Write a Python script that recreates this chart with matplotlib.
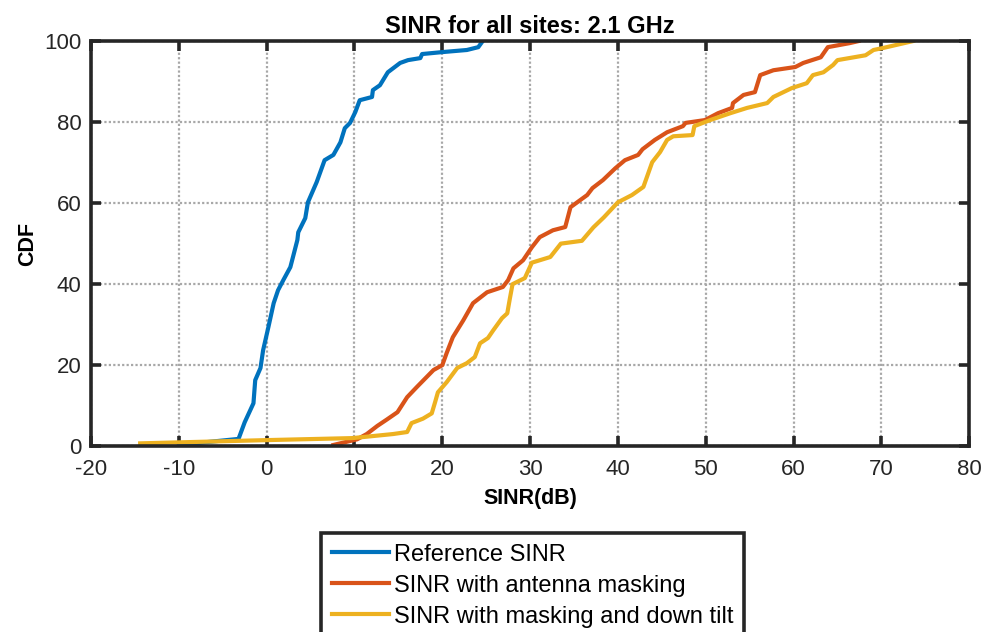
import matplotlib.pyplot as plt

plt.rcParams['font.family'] = ['Liberation Sans', 'DejaVu Sans']
plt.rcParams['axes.unicode_minus'] = False

# Reference SINR
ref_x = [-10.0, -3.2, -2.5, -1.5, -1.3, -0.7, -0.4, 0.2, 0.8, 1.3, 1.9, 2.7, 3.0,
         3.5, 3.6, 4.4, 4.7, 5.7, 6.6, 7.6, 8.4, 8.9, 9.5, 10.1, 10.6, 12.0, 12.1,
         12.9, 13.8, 15.2, 16.1, 17.5, 17.7, 20.1, 22.8, 24.1, 24.6]
ref_y = [0.3, 1.8, 5.9, 10.6, 16.3, 19.3, 23.7, 29.4, 35.3, 38.5, 41.0, 44.2, 46.7,
         50.9, 52.8, 56.3, 60.2, 65.2, 70.6, 71.9, 75.0, 78.5, 79.8, 82.5, 85.4, 86.2, 87.9,
         89.1, 92.3, 94.6, 95.3, 95.8, 96.8, 97.3, 97.8, 98.5, 100.0]

# SINR with antenna masking
mask_x = [7.6, 10.3, 11.4, 12.6, 13.7, 14.9, 16.0, 17.1, 19.0, 20.0, 20.5, 21.2,
          22.4, 23.5, 25.1, 26.9, 27.5, 28.1, 29.2, 30.2, 31.1, 32.6, 34.0, 34.6,
          36.5, 37.1, 38.3, 39.7, 40.8, 42.3, 42.8, 44.2, 45.6, 47.4, 47.7, 49.9,
          51.4, 53.0, 53.1, 54.3, 55.6, 56.2, 57.7, 60.2, 61.1, 63.1, 63.9, 66.4, 67.4]
mask_y = [0.3, 1.7, 3.0, 5.0, 6.6, 8.4, 12.1, 14.6, 18.8, 20.0, 23.0, 26.9,
          31.1, 35.3, 38.0, 39.3, 41.0, 43.9, 45.9, 49.1, 51.6, 53.3, 54.1, 59.0,
          62.0, 63.7, 65.7, 68.6, 70.6, 71.9, 73.3, 75.6, 77.5, 79.0, 79.8, 80.5,
          82.2, 83.5, 84.7, 86.7, 87.4, 91.6, 92.8, 93.6, 94.6, 96.0, 98.5, 99.5, 100.0]

# SINR with masking and down tilt
tilt_x = [-14.4, 0.0, 9.8, 14.4, 16.0, 16.5, 17.8, 18.8, 19.2, 19.5, 20.5, 21.7,
          22.8, 23.7, 24.3, 25.2, 25.8, 26.8, 27.4, 27.7, 28.0, 29.4, 30.2, 32.3,
          33.5, 35.9, 37.2, 38.4, 40.0, 41.6, 42.9, 43.9, 44.8, 45.6, 46.3, 48.5,
          48.7, 50.5, 52.8, 54.7, 57.0, 57.7, 59.8, 61.5, 62.2, 63.4, 64.5, 65.0,
          68.2, 69.1, 70.2, 73.6]
tilt_y = [0.7, 1.5, 2.0, 3.0, 3.5, 5.7, 6.8, 8.1, 11.0, 13.3, 15.8, 19.3,
          20.5, 22.0, 25.4, 26.7, 28.6, 31.6, 32.8, 36.5, 40.0, 41.5, 45.3, 46.7,
          50.0, 50.7, 54.0, 56.5, 60.2, 62.0, 64.0, 70.1, 72.6, 75.6, 76.5, 76.8,
          79.0, 80.5, 82.2, 83.5, 84.7, 86.2, 88.4, 89.6, 91.6, 92.3, 94.1, 95.3,
          96.5, 97.8, 98.3, 100.0]

labels = ['Reference SINR', 'SINR with antenna masking',
          'SINR with masking and down tilt']
colors = ['#0072BD', '#D95319', '#EDB120']
dark = '#262626'

fig = plt.figure(figsize=(9.89, 6.32), dpi=100)
ax = fig.add_axes([0.092, 0.294, 0.888, 0.641])

for xs, ys, lab, c in zip([ref_x, mask_x, tilt_x], [ref_y, mask_y, tilt_y],
                          labels, colors):
    ax.plot(xs, ys, color=c, linewidth=3.0, label=lab)

ax.set_xlim(-20, 80)
ax.set_ylim(0, 100)
ax.set_xticks(range(-20, 81, 10))
ax.set_yticks(range(0, 101, 20))
ax.grid(True, linestyle=(0, (1, 1)), color='#a8a8a8', linewidth=1.6)
ax.set_axisbelow(True)
for s in ax.spines.values():
    s.set_linewidth(2.6)
    s.set_color(dark)
ax.tick_params(direction='in', length=7, width=2.6, color=dark, labelcolor=dark,
               top=True, right=True, labelsize=16)
ax.tick_params(axis='x', pad=9)
ax.tick_params(axis='y', pad=7)

ax.set_title('SINR for all sites: 2.1 GHz', fontsize=17, fontweight='bold',
             pad=6, color='black')
ax.set_xlabel('SINR(dB)', fontsize=15.5, fontweight='bold', labelpad=6)
ax.set_ylabel('CDF', fontsize=15.5, fontweight='bold', labelpad=4)

leg = fig.legend(loc='upper left', bbox_to_anchor=(321 / 989, 1 - 533 / 632),
                 fontsize=17, fancybox=False, framealpha=1, edgecolor=dark,
                 handlelength=2.45, handletextpad=0.2, borderaxespad=0,
                 labelspacing=0.38, borderpad=0.45)
leg.get_frame().set_linewidth(2.6)

fig.savefig('out.png', dpi=100)
